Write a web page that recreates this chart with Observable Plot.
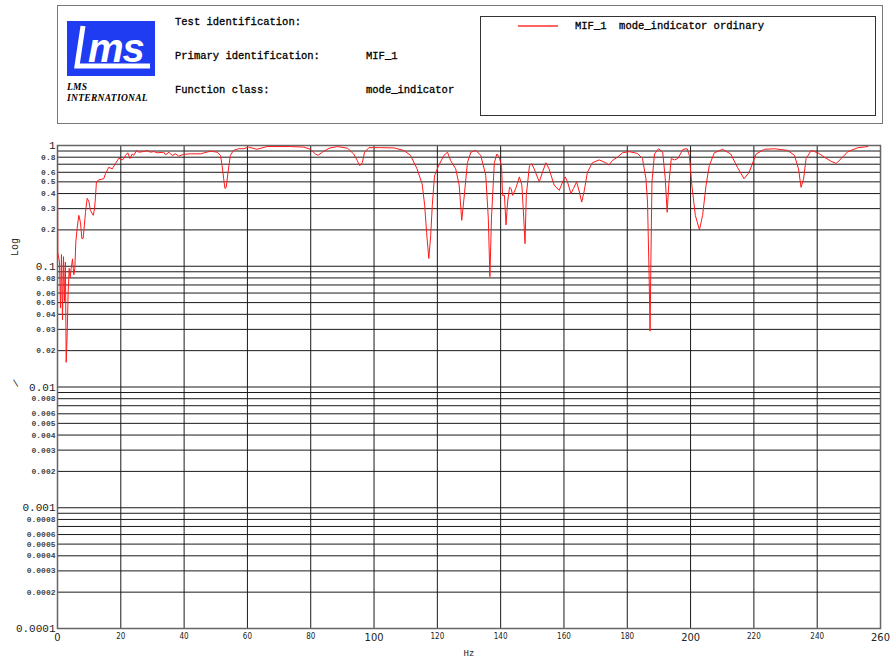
<!DOCTYPE html>
<html>
<head>
<meta charset="utf-8">
<script src="https://cdn.jsdelivr.net/npm/d3@7"></script>
<script src="https://cdn.jsdelivr.net/npm/@observablehq/plot@0.6"></script>
<style>
  body { margin: 0; background: #fff; width: 892px; height: 662px; overflow: hidden; }
  #header { position: relative; width: 892px; height: 130px; font-family: "Liberation Mono", "DejaVu Sans Mono", monospace; color: #000; }
  .abs { position: absolute; white-space: pre; }
  .lbl { font-size: 10.5px; font-weight: normal; -webkit-text-stroke: 0.3px #000; }
</style>
</head>
<body>
<div id="header"></div>
<div id="chart"></div>
<script>
// ---- data ----
const freqHz = [
  0, 0.1, 0.63, 0.95, 1.26, 1.58, 1.9, 2.2, 2.5, 2.74, 3.05, 3.37, 3.69, 4.0, 4.32, 4.74, 5.16, 5.48, 5.79,
  6.2, 6.74, 7.27, 7.69, 8.1, 8.5, 8.85, 9.37, 9.9, 10.4, 11.3, 11.7, 12.0, 12.3, 13.1, 14.6, 15.2, 16.2,
  17.3, 18.3, 19.4, 20.4, 21.0, 21.5, 22.2, 22.9, 23.6, 24.1, 25.0, 25.7, 27.3, 28.3, 29.4, 30.4, 31.5,
  33.6, 34.1, 35.2, 36.2, 37.3, 38.3, 39.4, 39.9, 42, 45.2, 48.3, 50.5, 51.5, 52.0, 52.5, 52.9, 53.3, 53.8,
  54.6, 55.6, 57.2, 58.8, 60.4, 63, 66.2, 73.6, 77.8, 79.9, 81.5, 82.3, 83.7, 85.8, 88.4, 91.6, 93.6, 94.7,
  95.5, 96.3, 97.0, 98.4, 102, 106.3, 109.4, 111.5, 113.6, 115.2, 116.0, 116.6, 117.3, 117.9, 118.4, 119.1,
  120.5, 122.1, 123.2, 124.2, 125.8, 126.9, 127.7, 128.4, 129.5, 130.6, 132.1, 133.7, 135.3, 136.1, 136.6,
  137.1, 138.0, 138.8, 139.6, 140.3, 140.6, 141.2, 141.7, 142.2, 142.8, 143.3, 143.8, 144.9, 145.9, 146.7,
  147.3, 147.7, 148.1, 149.1, 149.8, 150.6, 152.2, 153.2, 154.3, 155.3, 156.9, 158.5, 159.6, 160.4, 161.1,
  162.2, 163.0, 164.0, 164.8, 165.6, 166.4, 167.4, 169.0, 171.1, 173.2, 174.2, 175.3, 176.9, 178.5, 180.6,
  183.2, 184.8, 185.9, 186.4, 186.9, 187.2, 187.5, 187.8, 188.6, 189.9, 191.2, 192.0, 192.6, 193.1, 193.9,
  194.9, 196.0, 197.6, 198.9, 199.6, 200.4, 201.5, 202.8, 203.8, 204.9, 205.9, 207.5, 210.1, 212.7, 214.8,
  216.9, 218.5, 220.7, 223.3, 226.5, 230.7, 232.8, 234.1, 234.9, 235.7, 236.5, 238.1, 240.2, 242.3, 244.4,
  246.0, 247.6, 249.7, 252.9, 256.0
];
const mifValue = [
  1.0, 0.13, 0.108, 0.045, 0.125, 0.036, 0.12, 0.051, 0.108, 0.016, 0.027, 0.061, 0.096, 0.08, 0.096, 0.115, 0.085, 0.096, 0.159,
  0.206, 0.264, 0.23, 0.17, 0.17, 0.22, 0.28, 0.365, 0.345, 0.29, 0.264, 0.30, 0.374, 0.50, 0.52, 0.53, 0.587, 0.66,
  0.64, 0.71, 0.785, 0.76, 0.78, 0.83, 0.87, 0.78, 0.85, 0.83, 0.91, 0.88, 0.892, 0.909, 0.88, 0.892, 0.87,
  0.88, 0.837, 0.88, 0.827, 0.853, 0.816, 0.837, 0.845, 0.853, 0.853, 0.898, 0.88, 0.827, 0.68, 0.53, 0.44, 0.45, 0.58,
  0.827, 0.91, 0.94, 0.94, 0.97, 0.93, 0.98, 0.98, 0.97, 0.93, 0.85, 0.83, 0.88, 0.95, 0.98, 0.95, 0.85, 0.75,
  0.68, 0.72, 0.88, 0.96, 0.96, 0.955, 0.91, 0.83, 0.64, 0.48, 0.32, 0.19, 0.116, 0.18, 0.32, 0.56,
  0.69, 0.83, 0.88, 0.75, 0.64, 0.47, 0.24, 0.36, 0.72, 0.88, 0.91, 0.83, 0.565, 0.25, 0.082,
  0.25, 0.72, 0.85, 0.80, 0.66, 0.386, 0.386, 0.22, 0.34, 0.45, 0.44, 0.386, 0.45, 0.55, 0.47,
  0.25, 0.154, 0.386, 0.68, 0.706, 0.64, 0.50, 0.60, 0.72, 0.64, 0.47, 0.425, 0.50, 0.55, 0.50,
  0.40, 0.44, 0.50, 0.42, 0.34, 0.42, 0.60, 0.72, 0.76, 0.72, 0.69, 0.75, 0.80, 0.87, 0.89,
  0.86, 0.78, 0.53, 0.34, 0.084, 0.029, 0.13, 0.50, 0.85, 0.94, 0.88, 0.53, 0.28, 0.47, 0.78,
  0.76, 0.78, 0.93, 0.94, 0.83, 0.47, 0.264, 0.20, 0.264, 0.47, 0.68, 0.87, 0.93, 0.85, 0.66,
  0.53, 0.60, 0.85, 0.93, 0.94, 0.91, 0.83, 0.64, 0.45, 0.53, 0.78, 0.91, 0.87, 0.80, 0.74,
  0.71, 0.78, 0.89, 0.96, 0.98
];
const xTicks = [0, 20, 40, 60, 80, 100, 120, 140, 160, 180, 200, 220, 240, 260];
const xTicksLarge = [0, 100, 200, 260];
const yDecades = [1, 0.1, 0.01, 0.001, 0.0001];
const yDecadeLabels = ["1", "0.1", "0.01", "0.001", "0.0001"];
const yMinorMultipliers = [0.8, 0.6, 0.5, 0.4, 0.3, 0.2];
const yGridMultipliers = [0.9, 0.8, 0.7, 0.6, 0.5, 0.4, 0.3, 0.2];
const headerLabels = ["Test identification:", "Primary identification:", "Function class:"];
const headerValues = ["", "MIF_1", "mode_indicator"];
const legendText = "MIF_1  mode_indicator ordinary";

// ---- header (title block) ----
const header = document.getElementById("header");
header.innerHTML = `
  <div class="abs" style="left:57px;top:5px;width:824px;height:117px;border:1px solid #777;"></div>
  <svg class="abs" style="left:66px;top:20px" width="92" height="58">
    <rect x="1" y="1" width="88" height="55" fill="#1f3cf2"/>
    <text x="22" y="42" fill="#fff" font-family="Liberation Sans, Arial, sans-serif" font-style="italic" font-weight="bold" font-size="40" letter-spacing="-1">ms</text>
    <path d="M17 6 L11 46 L84 46" fill="none" stroke="#fff" stroke-width="5"/>
  </svg>
  <div class="abs" style="left:67px;top:82px;font-family:'Liberation Serif',serif;font-style:italic;font-weight:bold;font-size:9.5px;line-height:11px;letter-spacing:0.3px;">LMS<br>INTERNATIONAL</div>
  <div class="abs" style="left:480px;top:16px;width:394px;height:98px;border:1.5px solid #333;"></div>
  <svg class="abs" style="left:516px;top:22px" width="46" height="8">
    <line x1="2" y1="4" x2="42" y2="4" stroke="#ff3030" stroke-width="1.5"/>
  </svg>
  <div class="abs lbl" style="left:575px;top:20px;">${legendText}</div>
`;
headerLabels.forEach((t, i) => {
  const d = document.createElement("div");
  d.className = "abs lbl";
  d.style.left = "175px";
  d.style.top = (16 + i * 34) + "px";
  d.textContent = t;
  header.appendChild(d);
  if (headerValues[i]) {
    const v = document.createElement("div");
    v.className = "abs lbl";
    v.style.left = "366px";
    v.style.top = (16 + i * 34) + "px";
    v.textContent = headerValues[i];
    header.appendChild(v);
  }
});

// ---- chart ----
const data = freqHz.map((f, i) => ({f, v: mifValue[i]}));
const gridY = yDecades.slice(1).flatMap(d => yGridMultipliers.map(m => m * d * 10)).concat(yDecades);
const minorLabels = yDecades.slice(0, 4).flatMap(d => yMinorMultipliers.map(m => ({v: m * d, t: String(+(m * d).toPrecision(1))})));
const majorLabels = yDecades.map((d, i) => ({v: d, t: yDecadeLabels[i]}));
const xSmall = xTicks.filter(t => !xTicksLarge.includes(t));
const mono = "Liberation Mono, DejaVu Sans Mono, monospace";

const chart = Plot.plot({
  width: 892,
  height: 532,
  marginLeft: 57,
  marginRight: 12,
  marginTop: 15,
  marginBottom: 34,
  style: {background: "white"},
  x: {domain: [0, 260], axis: null},
  y: {type: "log", domain: [1e-4, 1], axis: null},
  marks: [
    Plot.ruleY(gridY, {stroke: "#1a1a1a", strokeWidth: 1}),
    Plot.ruleX(xTicks, {stroke: "#1a1a1a", strokeWidth: 1}),
    Plot.frame({stroke: "#666", strokeWidth: 1.5}),
    Plot.line(data, {x: "f", y: "v", stroke: "#ff1a1a", strokeWidth: 1}),
    Plot.text(majorLabels, {x: () => 0, y: "v", text: "t", textAnchor: "end", dx: -2, fontSize: 11, fontFamily: mono, fill: "#222"}),
    Plot.text(minorLabels, {x: () => 0, y: "v", text: "t", textAnchor: "end", dx: -2, fontSize: 8, fontFamily: mono, fontWeight: "bold", fill: "#444"}),
    Plot.text(xSmall, {x: d => d, y: () => 1e-4, text: d => String(d), dy: 8, fontSize: 8, fontFamily: "DejaVu Sans Condensed, DejaVu Sans, sans-serif", fill: "#222"}),
    Plot.text(xTicksLarge, {x: d => d, y: () => 1e-4, text: d => String(d), dy: 9, fontSize: 11, fontFamily: "DejaVu Sans Condensed, DejaVu Sans, sans-serif", fill: "#222"}),
    Plot.text(["Hz"], {frameAnchor: "bottom", dy: 27, fontSize: 9, fontFamily: mono, fill: "#222"}),
    Plot.text(["Log"], {frameAnchor: "left", dx: -43, dy: -131, rotate: -90, fontSize: 10, fontFamily: mono, fill: "#222"}),
    Plot.text(["/"], {frameAnchor: "left", dx: -43, dy: -1, rotate: -60, fontSize: 10, fontFamily: mono, fill: "#222"})
  ]
});
document.getElementById("chart").appendChild(chart);
</script>
</body>
</html>
